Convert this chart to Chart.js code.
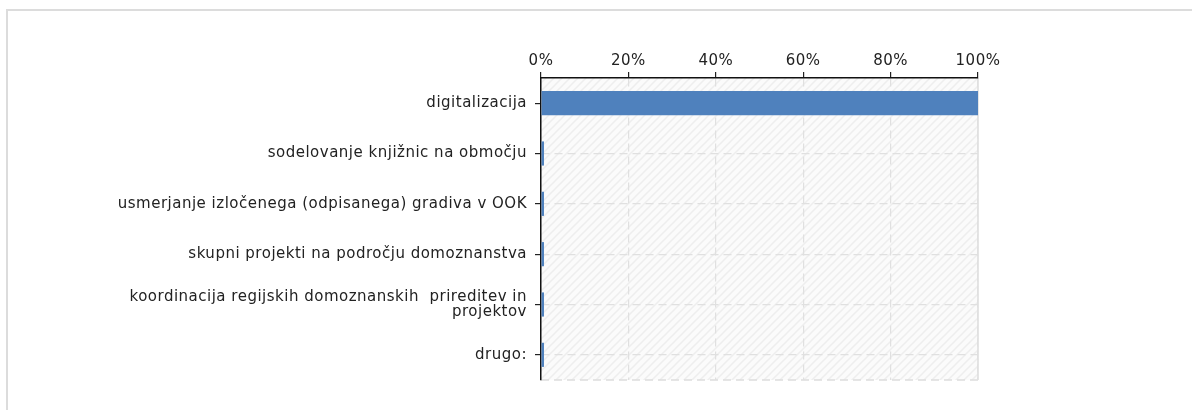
<!DOCTYPE html>
<html>
<head>
<meta charset="utf-8">
<script src="https://cdn.jsdelivr.net/npm/chart.js@4.4.1/dist/chart.umd.min.js"></script>
<style>
html,body{margin:0;padding:0;background:#fff;}
#wrap{position:relative;width:1192px;height:410px;}
</style>
</head>
<body>
<div id="wrap"><canvas id="c" width="1192" height="410"></canvas></div>
<script>
const categories = [
  "digitalizacija",
  "sodelovanje knjižnic na območju",
  "usmerjanje izločenega (odpisanega) gradiva v OOK",
  "skupni projekti na področju domoznanstva",
  ["koordinacija regijskih domoznanskih  prireditev in", "projektov"],
  "drugo:"
];
const shares = [100, 0, 0, 0, 0, 0];
const tickValues = [0, 20, 40, 60, 80, 100];

const FONT = "'DejaVu Sans', Verdana, sans-serif";

const decor = {
  id: 'decor',
  beforeDraw(chart) {
    const ctx = chart.ctx;
    const a = chart.chartArea;
    ctx.save();
    // page frame
    ctx.strokeStyle = '#dcdcdc';
    ctx.lineWidth = 2;
    ctx.beginPath();
    ctx.moveTo(7, 410);
    ctx.lineTo(7, 10);
    ctx.lineTo(1192, 10);
    ctx.stroke();
    // hatched plot background
    const p = document.createElement('canvas');
    p.width = 8; p.height = 8;
    const pc = p.getContext('2d');
    pc.fillStyle = '#fbfbfb';
    pc.fillRect(0, 0, 8, 8);
    pc.strokeStyle = '#eeeeee';
    pc.lineWidth = 1.5;
    pc.beginPath();
    pc.moveTo(-2, 10); pc.lineTo(10, -2);
    pc.moveTo(-2, 2); pc.lineTo(2, -2);
    pc.moveTo(6, 10); pc.lineTo(10, 6);
    pc.stroke();
    ctx.fillStyle = ctx.createPattern(p, 'repeat');
    ctx.fillRect(a.left, a.top, a.right - a.left, a.bottom - a.top);
    // bottom & right border of plot
    ctx.strokeStyle = '#dddddd';
    ctx.lineWidth = 1.5;
    ctx.setLineDash([8, 5]);
    ctx.beginPath();
    ctx.moveTo(a.left, a.bottom);
    ctx.lineTo(a.right, a.bottom);
    ctx.stroke();
    ctx.setLineDash([]);
    ctx.beginPath();
    ctx.moveTo(a.right, a.top);
    ctx.lineTo(a.right, a.bottom);
    ctx.stroke();
    ctx.restore();
    ctx.letterSpacing = '0.5px';
  }
};

new Chart(document.getElementById('c'), {
  type: 'bar',
  data: {
    labels: categories,
    datasets: [{
      data: shares,
      backgroundColor: '#4f81bd',
      borderWidth: 0,
      minBarLength: 3,
      barPercentage: 0.6,
      categoryPercentage: 0.8
    }]
  },
  options: {
    indexAxis: 'y',
    responsive: false,
    animation: false,
    devicePixelRatio: 1,
    layout: { padding: { left: 0, right: 214, top: 0, bottom: 30 } },
    plugins: { legend: { display: false }, tooltip: { enabled: false } },
    scales: {
      x: {
        position: 'top',
        min: 0, max: 100,
        afterBuildTicks(scale) { scale.ticks = tickValues.map(v => ({ value: v })); },
        afterFit(scale) { scale.height = 78; },
        ticks: {
          callback: v => v + '%',
          color: '#222',
          font: { family: FONT, size: 15, lineHeight: 1.0 },
          padding: 3
        },
        grid: {
          color: '#e0e0e0',
          lineWidth: 1.2,
          tickColor: '#222',
          tickBorderDash: [],
          tickLength: 6,
          drawTicks: true
        },
        border: { display: true, color: '#111', width: 1.5, dash: [8, 5] }
      },
      y: {
        afterFit(scale) { scale.width = 541; },
        ticks: {
          color: '#222',
          font: { family: FONT, size: 15, lineHeight: 1.03 },
          padding: 8,
          autoSkip: false
        },
        grid: {
          offset: false,
          color: '#e0e0e0',
          lineWidth: 1.2,
          tickColor: '#222',
          tickBorderDash: [],
          tickLength: 6
        },
        border: { display: true, color: '#111', width: 1.5, dash: [8, 5] }
      }
    }
  },
  plugins: [decor]
});
</script>
</body>
</html>
